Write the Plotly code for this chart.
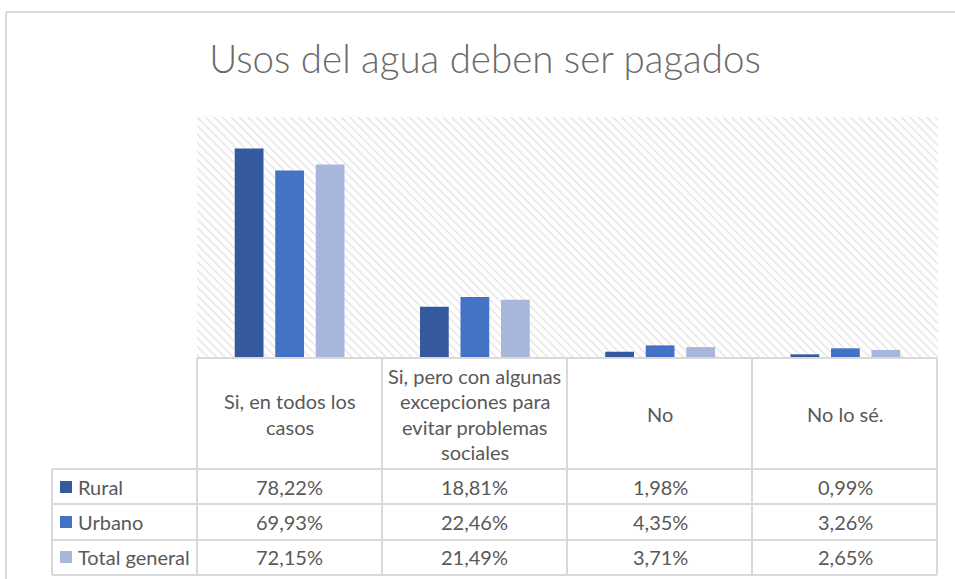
import textwrap
import plotly.graph_objects as go

# ---------------- data ----------------
categories = ["Si, en todos los casos",
              "Si, pero con algunas excepciones para evitar problemas sociales",
              "No",
              "No lo sé."]
series_names = ["Rural", "Urbano", "Total general"]
rural = [78.22, 18.81, 1.98, 0.99]
urbano = [69.93, 22.46, 4.35, 3.26]
total_general = [72.15, 21.49, 3.71, 2.65]
title_text = "Usos del agua deben ser pagados"

# ---------------- style ----------------
colors = ["#34599E", "#4472C4", "#A9B6DB"]
FONT = "Lato"
TXT = "#595959"
GRID = "#D9D9D9"
FS = 20
W, H = 955, 579
L, R, T, B = 197, 938, 117, 357   # plot area in pixels


def px(xp):
    return (xp - L) / (R - L)


def py(yp):
    return (B - yp) / (B - T)


def fmt(v):
    return f"{v:.2f}".replace(".", ",") + "%"


fig = go.Figure()

# hatched plot-area background
fig.add_trace(go.Bar(
    x=[0.5], y=[1], width=[1], xaxis="x", yaxis="y",
    marker=dict(color="white", line=dict(width=0),
                pattern=dict(shape="\\", fgcolor="#C4C4C4", bgcolor="white",
                             size=6, solidity=0.2)),
    hoverinfo="skip", showlegend=False))

all_series = [rural, urbano, total_general]
for name, vals, c in zip(series_names, all_series, colors):
    fig.add_trace(go.Bar(
        x=categories, y=[v / 100 for v in vals], name=name,
        xaxis="x2", yaxis="y2", marker=dict(color=c, line=dict(width=0)),
        showlegend=False))

shapes = []
annotations = []

# frame
shapes.append(dict(type="line", xref="paper", yref="paper",
                   x0=px(6), x1=px(960), y0=py(12), y1=py(12),
                   line=dict(color=GRID, width=2)))
shapes.append(dict(type="line", xref="paper", yref="paper",
                   x0=px(6), x1=px(6), y0=py(12), y1=py(585),
                   line=dict(color=GRID, width=2)))

# table grid
row_lines = [358, 469, 504, 540, 575]
col_lines = [197, 382, 567, 752, 937]
for i, yl in enumerate(row_lines):
    x0 = 197 if i == 0 else 52
    shapes.append(dict(type="line", xref="paper", yref="paper",
                       x0=px(x0), x1=px(937), y0=py(yl), y1=py(yl),
                       line=dict(color=GRID, width=2)))
for xl in col_lines:
    shapes.append(dict(type="line", xref="paper", yref="paper",
                       x0=px(xl), x1=px(xl), y0=py(358), y1=py(575),
                       line=dict(color=GRID, width=2)))
shapes.append(dict(type="line", xref="paper", yref="paper",
                   x0=px(52), x1=px(52), y0=py(469), y1=py(575),
                   line=dict(color=GRID, width=2)))

# header text
for cat in categories:
    lines = textwrap.wrap(cat, width=20)
    n = len(lines)
    for i, ln in enumerate(lines):
        yc = 414 + (i - (n - 1) / 2) * 25.3
        annotations.append(dict(xref="x2", yref="paper", x=cat, y=py(yc),
                                text=ln, showarrow=False, xanchor="center",
                                yanchor="middle",
                                font=dict(family=FONT, size=FS, color=TXT)))

# data rows
row_centers = [487, 522, 557]
for r, (name, vals, c) in enumerate(zip(series_names, all_series, colors)):
    yc = row_centers[r]
    shapes.append(dict(type="rect", xref="paper", yref="paper",
                       x0=px(60), x1=px(72), y0=py(yc - 6), y1=py(yc + 6),
                       fillcolor=c, line=dict(width=0)))
    annotations.append(dict(xref="paper", yref="paper", x=px(76), y=py(yc),
                            text=name, showarrow=False, xanchor="left",
                            yanchor="middle",
                            font=dict(family=FONT, size=FS, color=TXT)))
    for cat, v in zip(categories, vals):
        annotations.append(dict(xref="x2", yref="paper", x=cat, y=py(yc),
                                text=fmt(v), showarrow=False,
                                xanchor="center", yanchor="middle",
                                font=dict(family=FONT, size=FS, color=TXT)))

fig.update_layout(
    width=W, height=H,
    margin=dict(l=L, r=W - R, t=T, b=H - B, pad=0),
    paper_bgcolor="white", plot_bgcolor="white",
    barmode="group", bargap=0.344, bargroupgap=0.29,
    title=dict(text=title_text, x=485 / W, xanchor="center",
               y=1 - 60 / H, yanchor="middle",
               font=dict(family=FONT, size=38.5, color="#6A6A6A", weight=300)),
    xaxis=dict(range=[0, 1], visible=False, fixedrange=True),
    yaxis=dict(range=[0, 1], visible=False, fixedrange=True),
    xaxis2=dict(overlaying="x", type="category", visible=False,
                categoryarray=categories, categoryorder="array"),
    yaxis2=dict(overlaying="y", range=[0, 0.9], visible=False),
    shapes=shapes,
    annotations=annotations,
    showlegend=False,
)

fig.write_html("out.html",
               config={"displayModeBar": False},
               post_script="document.body.style.margin='0px';"
                           "document.body.style.overflow='hidden';")
